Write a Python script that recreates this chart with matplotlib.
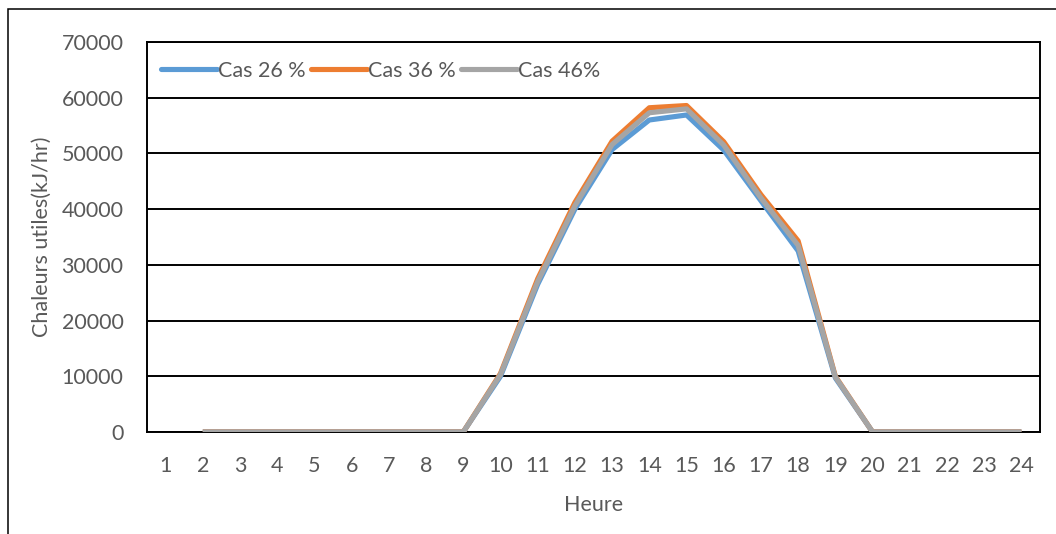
import matplotlib.pyplot as plt
import numpy as np
from matplotlib.patches import Rectangle

# heures 1..24 (pas de valeur a 1h)
heures = list(range(1, 25))
cas_26 = [np.nan, 0, 0, 0, 0, 0, 0, 0, 0, 10000, 26500, 40000, 50700, 56000, 56900,
          50600, 41500, 32500, 9700, 0, 0, 0, 0, 0]
cas_36 = [np.nan, 0, 0, 0, 0, 0, 0, 0, 0, 10500, 27500, 41200, 52200, 58200, 58600,
          52100, 42600, 34300, 10000, 0, 0, 0, 0, 0]
cas_46 = [np.nan, 0, 0, 0, 0, 0, 0, 0, 0, 10300, 27000, 40600, 51600, 57300, 58000,
          51500, 42000, 33500, 9900, 0, 0, 0, 0, 0]
noms = ['Cas 26 %', 'Cas 36 %', 'Cas 46%']
couleurs = ['#5B9BD5', '#ED7D31', '#A5A5A5']
y_ticks = list(range(0, 70001, 10000))

plt.rcParams['font.family'] = ['Lato', 'DejaVu Sans']
gris_texte = '#595959'

fig = plt.figure(figsize=(10.56, 5.34), dpi=100)
ax = fig.add_axes([147 / 1056, 102 / 534, 893 / 1056, 390 / 534])

# cadre exterieur du graphique
fig.patches.append(Rectangle((8 / 1056, -0.1), 1.2, (534 - 9) / 534 + 0.1,
                             transform=fig.transFigure, fill=False,
                             edgecolor='black', linewidth=1.1))

x = np.arange(len(heures))
for serie, nom, c in zip([cas_26, cas_36, cas_46], noms, couleurs):
    ax.plot(x, serie, color=c, linewidth=3.7, label=nom,
            solid_capstyle='butt', solid_joinstyle='round', zorder=3)

ax.set_xlim(-0.5, len(heures) - 0.5)
ax.set_ylim(0, 70000)
ax.set_yticks(y_ticks)
ax.set_xticks(x)
ax.set_xticklabels([str(h) for h in heures])
ax.grid(axis='y', color='black', linewidth=1.4, zorder=1)
ax.set_axisbelow(True)
for s in ax.spines.values():
    s.set_color('black')
    s.set_linewidth(1.4)

ax.tick_params(axis='both', length=0, labelsize=15.5, labelcolor=gris_texte)
ax.tick_params(axis='y', pad=17)
ax.tick_params(axis='x', pad=17)

ax.set_xlabel('Heure', fontsize=15.5, color=gris_texte, labelpad=14)
ax.set_ylabel('Chaleurs utiles(kJ/hr)', fontsize=15.5, color=gris_texte, labelpad=7)

leg = ax.legend(loc='upper left', bbox_to_anchor=(152 / 1056, 482 / 534),
                bbox_transform=fig.transFigure, ncol=3, frameon=False,
                fontsize=15.5, handlelength=2.6, handletextpad=0.05,
                columnspacing=0.25, borderaxespad=0)
for t in leg.get_texts():
    t.set_color(gris_texte)
for h in leg.get_lines():
    h.set_solid_capstyle('round')

plt.savefig('out.png', dpi=100)
